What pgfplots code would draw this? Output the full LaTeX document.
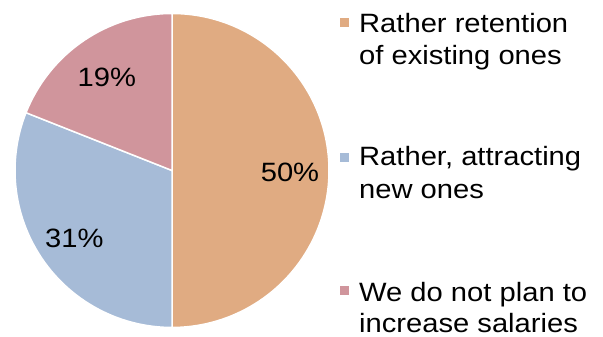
\documentclass[border=0pt]{standalone}
\usepackage{graphicx}
\usepackage{pgfplots}
\usepackage{pgfplotstable}
\pgfplotsset{compat=1.18}
\usetikzlibrary{calc}
\usepackage{fontspec}
\setmainfont{Liberation Sans}
\definecolor{cA}{RGB}{224,171,130}
\definecolor{cB}{RGB}{166,187,215}
\definecolor{cC}{RGB}{208,149,156}
\newcommand{\wt}[1]{\scalebox{1.1}[1]{#1}}
\pgfplotstableread{
idx value
0 50
1 31
2 19
}\piedata
\begin{document}
\fontsize{26.5}{32}\selectfont
\begin{tikzpicture}
\pgfplotstablegetelem{0}{value}\of\piedata \let\vA\pgfplotsretval
\pgfplotstablegetelem{1}{value}\of\piedata \let\vB\pgfplotsretval
\pgfplotstablegetelem{2}{value}\of\piedata \let\vC\pgfplotsretval
\pgfmathsetmacro\aA{90}
\pgfmathsetmacro\aB{90-3.6*\vA}
\pgfmathsetmacro\aC{\aB-3.6*\vB}
\pgfmathsetmacro\aD{\aC-3.6*\vC}
\pgfmathsetmacro\mA{(\aA+\aB)/2}
\pgfmathsetmacro\mB{(\aB+\aC)/2}
\pgfmathsetmacro\mC{(\aC+\aD)/2}
\begin{axis}[
  width=603pt, height=337pt, scale only axis,
  xmin=0, xmax=603, ymin=0, ymax=337,
  hide axis, clip=false,
]
\path (axis cs:0,0) rectangle (axis cs:603,337);
\def\R{157}
\fill[cA, draw=white, line width=1.5pt] (axis cs:172,166.5) -- ++(\aA:\R pt) arc[start angle=\aA, end angle=\aB, radius=\R pt] -- cycle;
\fill[cB, draw=white, line width=1.5pt] (axis cs:172,166.5) -- ++(\aB:\R pt) arc[start angle=\aB, end angle=\aC, radius=\R pt] -- cycle;
\fill[cC, draw=white, line width=1.5pt] (axis cs:172,166.5) -- ++(\aC:\R pt) arc[start angle=\aC, end angle=\aD, radius=\R pt] -- cycle;
\node at ($(axis cs:172,165)+(\mA:118pt)$) {\wt{\vA\%}};
\node at ($(axis cs:172,165)+(\mB:118pt)$) {\wt{\vB\%}};
\node at ($(axis cs:172,164)+(\mC:116pt)$) {\wt{\vC\%}};
% legend
\fill[cA] (axis cs:339.5,310) rectangle (axis cs:348.5,319);
\fill[cB] (axis cs:339.5,175) rectangle (axis cs:348.5,184);
\fill[cC] (axis cs:339.5,41.5) rectangle (axis cs:348.5,50.5);
\node[anchor=base west, inner sep=0pt] at (axis cs:359,304.5) {\wt{Rather retention}};
\node[anchor=base west, inner sep=0pt] at (axis cs:359,272) {\wt{of existing ones}};
\node[anchor=base west, inner sep=0pt] at (axis cs:359,171) {\wt{Rather, attracting}};
\node[anchor=base west, inner sep=0pt] at (axis cs:359,138) {\wt{new ones}};
\node[anchor=base west, inner sep=0pt] at (axis cs:359,35) {\wt{We do not plan to}};
\node[anchor=base west, inner sep=0pt] at (axis cs:359,4.5) {\wt{increase salaries}};
\end{axis}
\end{tikzpicture}
\end{document}
